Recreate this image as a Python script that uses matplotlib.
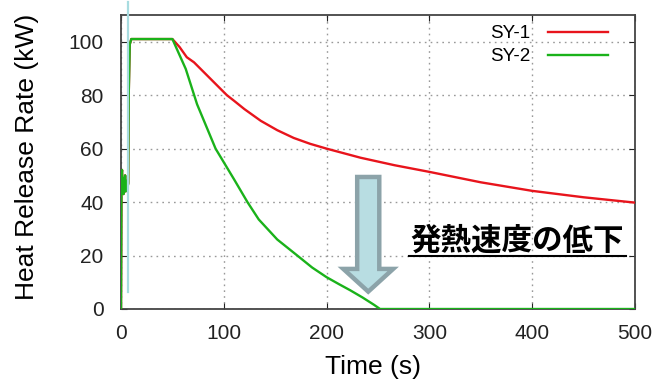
import matplotlib
matplotlib.use("Agg")
import matplotlib.pyplot as plt
from matplotlib.patches import FancyArrow

plt.rcParams['font.family'] = ['Liberation Sans', 'DejaVu Sans']

# SY-1 (red)
t1 = [0, 0.5, 1, 1.5, 2, 2.5, 3, 3.5, 4, 4.5, 5, 5.5, 6, 6.5, 7, 7.5, 8.5, 10,
      50, 57, 64, 71, 84, 97, 103, 110, 120, 136, 152, 168, 184, 200, 233, 266,
      300, 350, 400, 450, 500]
q1 = [0, 50, 52, 45, 49, 43, 48, 46, 50, 44, 47, 45, 48, 46, 47, 80, 99, 101,
      101, 98, 94.2, 92.3, 87.3, 82.3, 80, 77.9, 74.8, 70.4, 66.9, 64.0, 61.8, 60, 56.6, 53.8,
      51.3, 47.4, 44.2, 41.8, 39.8]
# SY-2 (green)
t2 = [0, 0.5, 1, 1.5, 2, 2.5, 3, 3.5, 4, 4.5, 5, 5.5, 6, 6.5, 7, 7.5, 8.5, 10,
      50, 63, 74, 92, 110, 123, 134, 152, 171.5, 186, 200, 212, 223, 235, 246, 252, 500]
q2 = [0, 50, 52, 45, 49, 43, 48, 46, 50, 44, 47, 45, 48, 46, 47, 80, 99, 101,
      101, 89.8, 76.6, 60, 48.5, 40, 33.5, 26, 20, 15.5, 11.9, 9.3, 7.0, 4.3, 1.6, 0, 0]

xticks = [0, 100, 200, 300, 400, 500]
yticks = [0, 20, 40, 60, 80, 100]
marker_t = 6.9
arrow_t = 240.5
arrow_from, arrow_to = 49.4, 6.5
annot = "発熱速度の低下"

fig = plt.figure(figsize=(6.52, 3.83), dpi=100)
ax = fig.add_axes([121/652, 1 - 309/383, (635-121)/652, (309-15)/383])
ax.set_xlim(0, 500)
ax.set_ylim(0, 110)

ax.plot(t1, q1, color='#e8141c', lw=1.7, label='SY-1', zorder=3)
ax.plot(t2, q2, color='#1ab21a', lw=1.7, label='SY-2', zorder=4)

ax.plot([marker_t, marker_t], [6.5, 114.9], color='#a8dce0', lw=1.6, clip_on=False, zorder=5)

ax.set_xticks(xticks)
ax.set_yticks(yticks)
ax.grid(True, color='#999999', linestyle=(0, (1.2, 3)), lw=1.0)
ax.tick_params(direction='in', top=True, right=True, labelsize=15, length=4, colors='#222222')
ax.tick_params(axis='y', pad=12.5)
ax.tick_params(axis='x', pad=11)
for s in ax.spines.values():
    s.set_color('#444444')
    s.set_linewidth(1.3)
ax.set_xlabel('Time (s)', fontsize=19)
ax.set_ylabel('Heat Release Rate (kW)', fontsize=19)
ax.xaxis.set_label_coords(0.491, -0.156)
ax.yaxis.set_label_coords(-0.16, 0.519)

leg = ax.legend(loc='upper right', frameon=False, markerfirst=False, fontsize=13.6,
                handlelength=3.17, borderpad=0, borderaxespad=0, labelspacing=0.32,
                handletextpad=0.95, bbox_to_anchor=((608-121)/514, 1 - 10/294))

arr = FancyArrow(arrow_t, arrow_from, 0, arrow_to - arrow_from, width=21.5, head_width=48.5,
                 head_length=8.5, length_includes_head=True,
                 facecolor='#b8dde2', edgecolor='#8ca3a9', lw=3.2, zorder=6)
ax.add_patch(arr)

ax.text(385.7, 25.6, annot, fontsize=22, fontweight='bold', ha='center', va='center',
        family=['Noto Sans CJK JP', 'DejaVu Sans'], zorder=7)
ax.plot([280, 491], [20.0, 20.0], color='black', lw=1.5, zorder=7)

fig.savefig('out.png', dpi=100)
